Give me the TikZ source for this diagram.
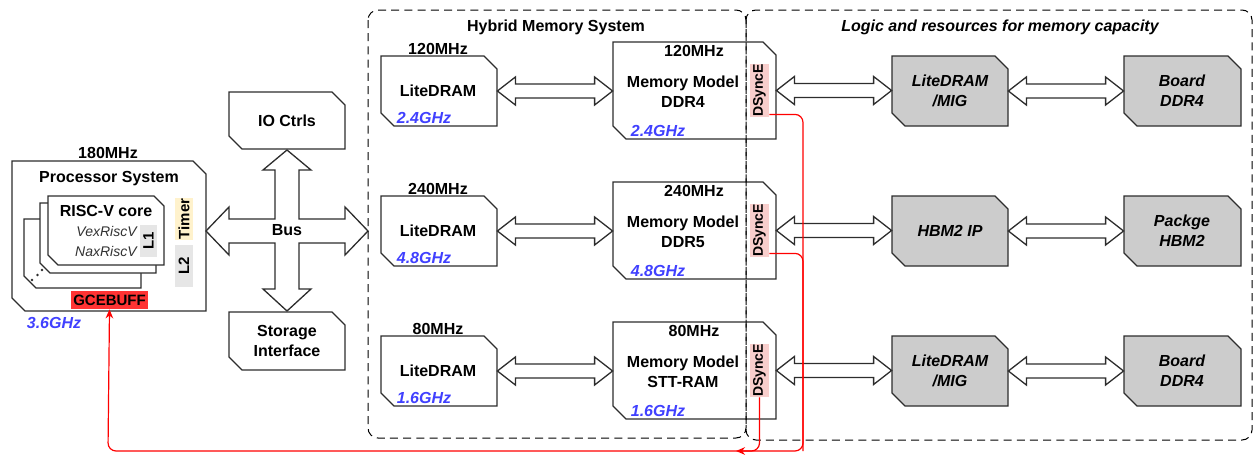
\documentclass[tikz,border=0pt]{standalone}
\usepackage{fontspec}
\setmainfont{Liberation Sans}
\usetikzlibrary{calc,fit,arrows.meta}

\definecolor{boxln}{RGB}{45,45,45}
\definecolor{ghz}{RGB}{64,64,255}
\definecolor{dspink}{RGB}{248,206,204}
\definecolor{tmr}{RGB}{255,242,204}
\definecolor{lgrey}{RGB}{230,230,230}
\definecolor{dgrey}{RGB}{204,204,204}
\definecolor{gcered}{RGB}{255,51,51}
\definecolor{wire}{RGB}{255,0,0}
\definecolor{subtxt}{RGB}{50,50,50}

\tikzset{
  boxline/.style={draw=boxln, line width=0.65pt, line join=miter},
  lbl/.style={inner sep=0pt, align=center, font=\fontsize{8}{10}\selectfont\bfseries},
  lbli/.style={inner sep=0pt, align=center, font=\fontsize{8}{10}\selectfont\bfseries\itshape},
  ghzlbl/.style={inner sep=0pt, text=ghz, font=\fontsize{8}{10}\selectfont\bfseries\itshape},
  vex/.style={inner sep=0pt, text=subtxt, font=\fontsize{7}{9}\selectfont\itshape},
  rot/.style={inner sep=0pt, rotate=90, font=\fontsize{7.5}{9}\selectfont\bfseries},
  cont/.style={draw=black, line width=0.5pt, dash pattern=on 4pt off 2.6pt, rounded corners=5pt},
  redwire/.style={draw=wire, line width=0.6pt, rounded corners=4pt},
  tip/.style={-{Stealth[length=4.5pt,width=3.8pt]}}
}

% box with the top-right and bottom-left corners cut off: name, x1, y1, x2, y2, cut, fill
\newcommand\cbx[7]{%
  \filldraw[boxline,fill=#7] (#2,#3) -- ({#4-#6},#3) -- (#4,{#3+#6}) -- (#4,#5)
    -- ({#2+#6},#5) -- (#2,{#5-#6}) -- cycle;
  \coordinate (#1-a) at (#2,#3); \coordinate (#1-b) at (#4,#5);
  \node[fit=(#1-a)(#1-b), inner sep=0pt] (#1) {};}

% plain filled tag without outline: name, x1, y1, x2, y2, fill
\newcommand\fbx[6]{%
  \fill[#6] (#2,#3) rectangle (#4,#5);
  \coordinate (#1-a) at (#2,#3); \coordinate (#1-b) at (#4,#5);
  \node[fit=(#1-a)(#1-b), inner sep=0pt] (#1) {};}

% horizontal double-headed block arrow between two nodes
\newcommand\barr[2]{%
  \draw[boxline, fill=white] let \p1=(#1.east), \p2=(#2.west) in
    (\x1,\y1) -- (\x1+9pt,\y1+7pt) -- (\x1+9pt,\y1+3.5pt) -- (\x2-9pt,\y1+3.5pt)
    -- (\x2-9pt,\y1+7pt) -- (\x2,\y1) -- (\x2-9pt,\y1-7pt) -- (\x2-9pt,\y1-3.5pt)
    -- (\x1+9pt,\y1-3.5pt) -- (\x1+9pt,\y1-7pt) -- cycle;}

\begin{document}
\begin{tikzpicture}[x=0.5pt,y=-0.5pt]
\useasboundingbox (0,0) rectangle (1254,455);

% ---------- processor system ----------
\cbx{ps}{12}{161}{206}{311}{13}{white}
\node[lbl] (psf) at (108,153) {180MHz};
\node[lbl] (pst) at (109,179) {Processor System};
\cbx{c3}{24}{219}{141}{288}{12}{white}
\cbx{c2}{40}{203}{156}{273}{10}{white}
\cbx{c1}{48}{196}{164}{265}{10}{white}
\fill[boxln] (32,280) circle[radius=0.65pt] (37.5,275) circle[radius=0.65pt] (42,270) circle[radius=0.65pt];
\node[lbl] (rv) at (106,211) {RISC-V core};
\node[vex, anchor=east] (vx) at (137,231) {VexRiscV};
\node[vex, anchor=east] (nx) at (137,251) {NaxRiscV};
\fbx{l1}{140}{225}{157}{257}{lgrey}
\node[rot] (l1t) at (l1) {L1};
\fbx{tm}{175}{198}{193}{240}{tmr}
\node[rot] (tmt) at (tm) {Timer};
\fbx{l2}{175}{245}{193}{287}{lgrey}
\node[rot] (l2t) at (l2) {L2};
\fbx{gce}{71}{291}{148}{309}{gcered}
\node[inner sep=0pt, font=\fontsize{7.5}{9}\selectfont\bfseries] (gcet) at (gce) {GCEBUFF};
\node[ghzlbl] (psg) at (54,323) {3.6GHz};

% ---------- peripherals and bus ----------
\cbx{io}{229}{92}{345}{149}{13}{white}
\node[lbl] (iot) at (io) {IO Ctrls};
\cbx{st}{229}{312}{345}{370}{13}{white}
\node[lbl] (stt) at (st) {Storage\\Interface};
\filldraw[boxline, fill=white]
  (287,150) -- (311,170) -- (299,170) -- (299,219) -- (345,219) -- (345,207)
  -- (368,231) -- (345,255) -- (345,243) -- (299,243) -- (299,289) -- (311,289)
  -- (287,311) -- (263,289) -- (275,289) -- (275,243) -- (229,243) -- (229,255)
  -- (206,231) -- (229,207) -- (229,219) -- (275,219) -- (275,170) -- (263,170) -- cycle;
\node[lbl] (bus) at (287,230) {Bus};

% ---------- memory channels ----------
\foreach \rw/\fq/\gz/\mt/\tA/\tB in {%
  0/120MHz/2.4GHz/DDR4/{LiteDRAM\\/MIG}/{Board\\DDR4},%
  1/240MHz/4.8GHz/DDR5/{HBM2 IP}/{Packge\\HBM2},%
  2/80MHz/1.6GHz/STT-RAM/{LiteDRAM\\/MIG}/{Board\\DDR4}}{
  \pgfmathsetmacro\dy{140*\rw}
  \cbx{lite\rw}{381}{56+\dy}{497}{126+\dy}{13}{white}
  \node[lbl] (litef\rw) at (438,49+\dy) {\fq};
  \node[lbl] (litet\rw) at (438,91+\dy) {LiteDRAM};
  \node[ghzlbl] (liteg\rw) at (424,118+\dy) {\gz};
  \cbx{mm\rw}{613}{42+\dy}{776}{139+\dy}{13}{white}
  \node[lbl] (mmf\rw) at (694,51+\dy) {\fq};
  \node[lbl] (mmt\rw) at (683,92+\dy) {Memory Model\\\mt};
  \node[ghzlbl] (mmg\rw) at (658,131+\dy) {\gz};
  \fbx{ds\rw}{750}{64+\dy}{769}{117+\dy}{dspink}
  \node[rot, font=\fontsize{7}{9}\selectfont\bfseries] (dst\rw) at (ds\rw) {DSyncE};
  \cbx{ga\rw}{892}{56+\dy}{1008}{126+\dy}{13}{dgrey}
  \node[lbli] (gat\rw) at (950,91+\dy) {\tA};
  \cbx{gb\rw}{1124}{56+\dy}{1241}{126+\dy}{13}{dgrey}
  \node[lbli] (gbt\rw) at (1182,91+\dy) {\tB};
  \barr{lite\rw}{mm\rw}
  \barr{mm\rw}{ga\rw}
  \barr{ga\rw}{gb\rw}
}

% ---------- region frames ----------
\draw[cont] (368,10) rectangle (746,438);
\draw[cont] (746,10) rectangle (1252,440);
\node[lbl] (hms) at (556,27) {Hybrid Memory System};
\node[lbli] (lrm) at (1000,27) {Logic and resources for memory capacity};

% ---------- sync feedback wires ----------
\coordinate (rr) at (803,451);
\coordinate (rl) at (108,451);
\coordinate (rt) at (736,451);
\draw[redwire, tip] ([yshift=1.5pt]ds0.south east) -| (rr) -- (rl) -- (gce.south);
\draw[redwire] ([yshift=2pt]ds1.south east) -| (rr);
\draw[redwire, tip] (ds2.south) |- (rt);
\end{tikzpicture}
\end{document}
